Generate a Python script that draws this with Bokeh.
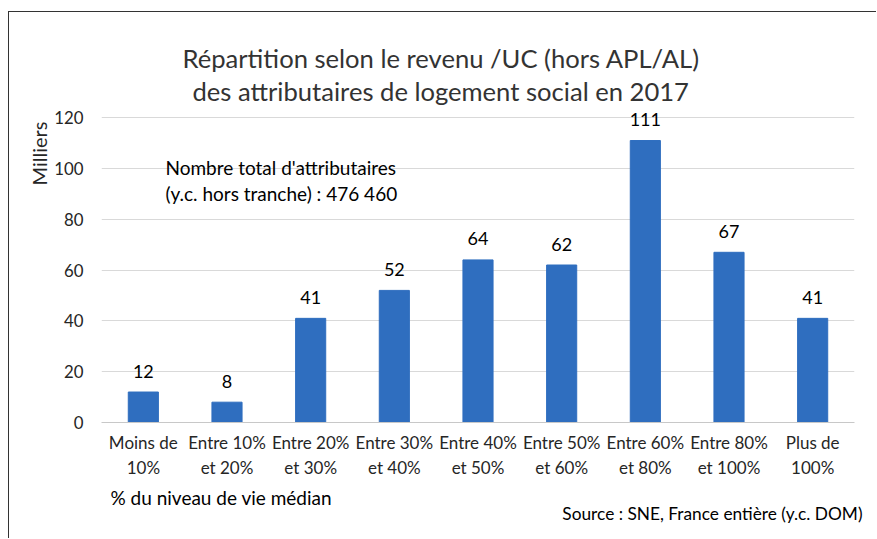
from bokeh.plotting import figure
from bokeh.models import Label, FactorRange, FixedTicker, Title
from bokeh.embed import file_html
from bokeh.resources import INLINE

categories = ["Moins de\n10%", "Entre 10%\net 20%", "Entre 20%\net 30%", "Entre 30%\net 40%",
              "Entre 40%\net 50%", "Entre 50%\net 60%", "Entre 60%\net 80%", "Entre 80%\net 100%",
              "Plus de\n100%"]
values = [12, 8, 41, 52, 64, 62, 111, 67, 41]
y_ticks = [0, 20, 40, 60, 80, 100, 120]

title_lines = ["Répartition selon le revenu /UC (hors APL/AL)",
               "des attributaires de logement social en 2017"]
note_lines = ["Nombre total d'attributaires", "(y.c. hors tranche) : 476 460"]
y_label = "Milliers"
x_note = "% du niveau de vie médian"
source_note = "Source : SNE, France entière (y.c. DOM)"

FONT = "Lato"
TXT = "#262626"
BAR = "#2f6ebf"

p = figure(width=868, height=527, x_range=FactorRange(*categories), y_range=(0, 124),
           output_backend="svg", toolbar_location=None,
           min_border_left=92, min_border_right=23, min_border_top=95, min_border_bottom=117)
p.outline_line_color = None
p.background_fill_color = "white"
p.border_fill_color = "white"
p.margin = (11, 0, 0, 8)
p.styles = {"border-left": "1px solid #333333", "border-top": "1px solid #333333"}

p.vbar(x=categories, top=values, width=0.36, color=BAR)

p.yaxis.ticker = FixedTicker(ticks=y_ticks)
p.yaxis.axis_line_color = None
p.yaxis.major_tick_line_color = None
p.yaxis.minor_tick_line_color = None
p.yaxis.major_label_text_font = FONT
p.yaxis.major_label_text_font_size = "16.8px"
p.yaxis.major_label_text_color = TXT
p.yaxis.major_label_standoff = 12

p.xaxis.axis_line_color = "#c8c8c8"
p.xaxis.major_tick_line_color = None
p.xaxis.minor_tick_line_color = None
p.xaxis.major_label_text_font = FONT
p.xaxis.major_label_text_font_size = "17px"
p.xaxis.major_label_text_color = TXT
p.xaxis.major_label_standoff = 3

p.xgrid.grid_line_color = None
p.ygrid.grid_line_color = "#d9d9d9"
p.ygrid.ticker = FixedTicker(ticks=y_ticks)

for i, (c, v) in enumerate(zip(categories, values)):
    p.add_layout(Label(x=i + 0.5, y=v, text=str(v), text_align="center", text_baseline="alphabetic",
                       y_offset=21, text_font=FONT, text_font_size="18px", text_color="black"))

# title lines (outer one added last)
p.add_layout(Title(text=title_lines[1], align="left", text_font=FONT, text_font_size="25.6px",
                   text_font_style="normal", text_color="#333333", standoff=3, offset=91), "above")
p.add_layout(Title(text=title_lines[0], align="left", text_font=FONT, text_font_size="25.6px",
                   text_font_style="normal", text_color="#333333", standoff=0, offset=81), "above")

p.add_layout(Title(text=y_label, align="right", text_font=FONT, text_font_size="20px",
                   text_font_style="normal", text_color=TXT, standoff=2, offset=14), "left")

p.add_layout(Title(text=x_note, align="left", text_font=FONT, text_font_size="19px",
                   text_font_style="normal", text_color="black", standoff=6, offset=9), "below")
p.add_layout(Title(text=source_note, align="right", text_font=FONT, text_font_size="17.3px",
                   text_font_style="normal", text_color="black", standoff=-24, offset=-8), "below")

p.add_layout(Label(x=64, y=255, x_units="screen", y_units="screen", text=note_lines[0],
                   text_align="left", text_baseline="middle", text_font=FONT,
                   text_font_size="19px", text_color="black"))
p.add_layout(Label(x=64, y=229, x_units="screen", y_units="screen", text=note_lines[1],
                   text_align="left", text_baseline="middle", text_font=FONT,
                   text_font_size="19px", text_color="black"))

open("out.html", "w").write(file_html(p, INLINE))
